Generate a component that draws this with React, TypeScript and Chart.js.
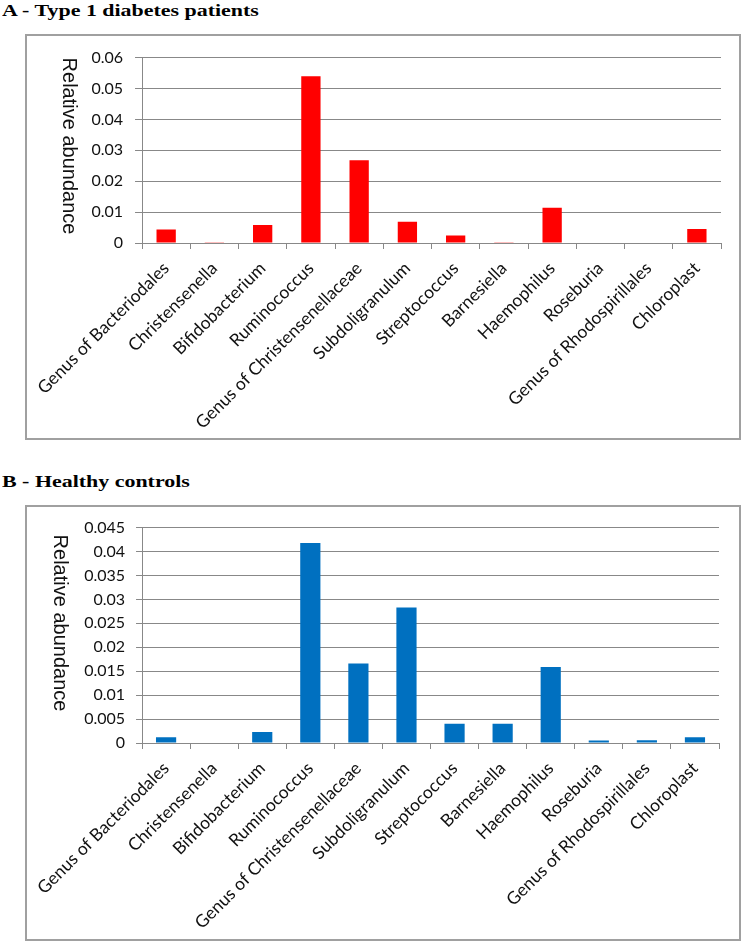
import React, { useEffect, useRef } from "react";
import { Chart, registerables } from "chart.js";

Chart.register(...registerables);

const categories = [
  "Genus of Bacteriodales",
  "Christensenella",
  "Bifidobacterium",
  "Ruminococcus",
  "Genus of Christensenellaceae",
  "Subdoligranulum",
  "Streptococcus",
  "Barnesiella",
  "Haemophilus",
  "Roseburia",
  "Genus of Rhodospirillales",
  "Chloroplast",
];

const t1dValues = [0.0044, 0.0001, 0.0058, 0.054, 0.0268, 0.0069, 0.0024, 0.0001, 0.0114, 0.0, 0.0, 0.0045];
const healthyValues = [0.0012, 0.0, 0.0023, 0.0418, 0.0166, 0.0283, 0.004, 0.004, 0.0159, 0.0005, 0.0006, 0.0012];

const t1dTicks = { min: 0, max: 0.06, step: 0.01 };
const healthyTicks = { min: 0, max: 0.045, step: 0.005 };

const titleA = "A - Type 1 diabetes patients";
const titleB = "B - Healthy controls";
const yTitle = "Relative abundance";

const GRID = "#888888";

const yTitlePlugin = {
  id: "yTitleDown",
  afterDraw(chart: any, _args: any, opts: any) {
    const ctx = chart.ctx;
    ctx.save();
    ctx.translate(opts.x, opts.y);
    ctx.rotate(Math.PI / 2);
    ctx.textAlign = "center";
    ctx.textBaseline = "middle";
    ctx.font = '20px "Liberation Sans", Arial, sans-serif';
    ctx.fillStyle = "#111";
    ctx.fillText(opts.text, 0, 0);
    ctx.restore();
  },
};

type Props = {
  values: number[];
  color: string;
  ticks: { min: number; max: number; step: number };
  yWidth: number;
  xHeight: number;
  padTop: number;
  padRight: number;
  barPct: number;
  titleX: number;
  titleY: number;
  tickLen: number;
  tickPad: number;
  width: number;
  height: number;
};

function BarPanel(p: Props) {
  const ref = useRef<HTMLCanvasElement>(null);
  useEffect(() => {
    if (!ref.current) return;
    const chart = new Chart(ref.current, {
      type: "bar",
      data: {
        labels: categories,
        datasets: [
          {
            data: p.values,
            backgroundColor: p.color,
            borderWidth: 0,
            categoryPercentage: 1,
            barPercentage: p.barPct,
          },
        ],
      },
      plugins: [yTitlePlugin],
      options: {
        animation: false,
        responsive: false,
        maintainAspectRatio: false,
        devicePixelRatio: 1,
        layout: { padding: { top: p.padTop, right: p.padRight, left: 0, bottom: 0 } },
        plugins: {
          legend: { display: false },
          tooltip: { enabled: false },
          yTitleDown: { text: yTitle, x: p.titleX, y: p.titleY },
        } as any,
        scales: {
          x: {
            grid: {
              offset: true,
              drawOnChartArea: false,
              drawTicks: true,
              tickLength: 6,
              color: GRID,
            },
            border: { display: true, color: GRID, width: 1 },
            ticks: {
              autoSkip: false,
              minRotation: 45,
              maxRotation: 45,
              padding: 9,
              color: "#111",
              font: { family: "Lato", size: 17.5 },
            },
            afterFit: (s: any) => {
              s.height = p.xHeight;
            },
          },
          y: {
            min: p.ticks.min,
            max: p.ticks.max,
            grid: { color: GRID, tickLength: p.tickLen, drawTicks: true },
            border: { display: true, color: GRID, width: 1 },
            ticks: {
              stepSize: p.ticks.step,
              padding: p.tickPad,
              color: "#111",
              font: { family: "Lato", size: 16 },
              callback: (v: any) => String(parseFloat(Number(v).toFixed(4))),
            },
            afterFit: (s: any) => {
              s.width = p.yWidth;
            },
          },
        },
      } as any,
    });
    return () => chart.destroy();
  }, []);
  return <canvas ref={ref} width={p.width} height={p.height} style={{ display: "block", width: p.width, height: p.height }} />;
}

export default function App() {
  const titleStyle: React.CSSProperties = {
    position: "absolute",
    left: 2,
    fontFamily: '"Liberation Serif", "Times New Roman", serif',
    fontWeight: "bold",
    fontSize: 17,
    lineHeight: "17px",
    whiteSpace: "nowrap",
    transform: "scaleX(1.29)",
    transformOrigin: "left top",
    color: "#000",
  };
  const boxStyle: React.CSSProperties = {
    position: "absolute",
    left: 25,
    width: 716,
    boxSizing: "border-box",
    border: "2px solid #a0a0a0",
    background: "#fff",
  };
  return (
    <div style={{ position: "absolute", left: 0, top: 0, width: 743, height: 941, background: "#fff" }}>
      <div style={{ ...titleStyle, top: 2 }}>{titleA}</div>
      <div style={{ ...boxStyle, top: 34, height: 406 }} />
      <div style={{ position: "absolute", left: 27, top: 36 }}>
        <BarPanel
          values={t1dValues}
          color="#FF0000"
          ticks={t1dTicks}
          yWidth={112}
          xHeight={194}
          padTop={20}
          padRight={18}
          barPct={0.4}
          titleX={42}
          titleY={110}
          tickLen={7}
          tickPad={12}
          width={712}
          height={401}
        />
      </div>

      <div style={{ ...titleStyle, top: 473 }}>{titleB}</div>
      <div style={{ ...boxStyle, top: 505, height: 436 }} />
      <div style={{ position: "absolute", left: 27, top: 507 }}>
        <BarPanel
          values={healthyValues}
          color="#0070C0"
          ticks={healthyTicks}
          yWidth={110}
          xHeight={195}
          padTop={18}
          padRight={20}
          barPct={0.42}
          titleX={33}
          titleY={116}
          tickLen={6}
          tickPad={11}
          width={712}
          height={431}
        />
      </div>
    </div>
  );
}
